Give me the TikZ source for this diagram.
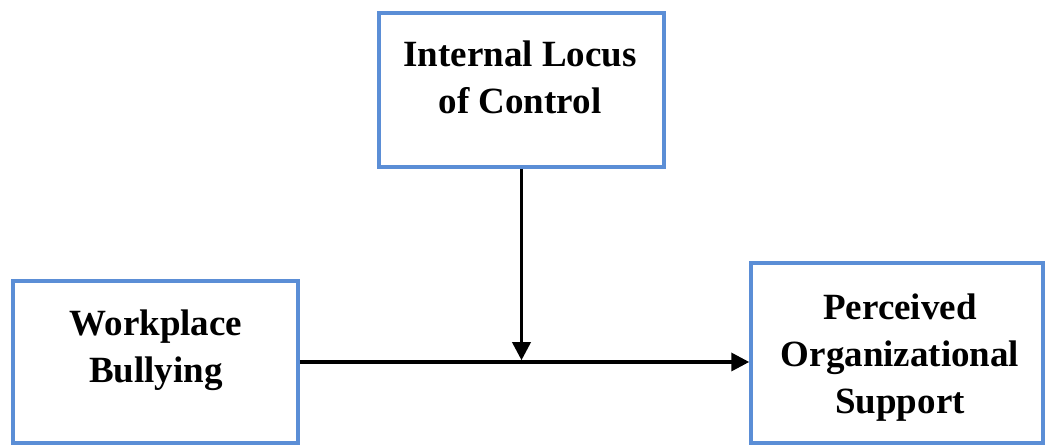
\documentclass[tikz,border=0pt]{standalone}
\usepackage{fontspec}
\setmainfont{Liberation Serif}
\usetikzlibrary{arrows.meta}
\definecolor{boxblue}{HTML}{5B8ED6}
\tikzset{
  boxnode/.style={draw=boxblue, line width=3.5pt, fill=white, inner sep=0pt},
  lbl/.style={inner sep=0pt, align=center, font=\fontsize{37}{47}\selectfont\bfseries},
  conn/.style={line width=3.5pt, -{Triangle[length=18pt,width=18pt]}}
}
\begin{document}
\begin{tikzpicture}[x=1pt,y=1pt]
\useasboundingbox (0,0) rectangle (1046,446);
\node[boxnode, minimum width=285pt, minimum height=154pt] (ilc) at (521.5,356) {};
\node[boxnode, minimum width=285pt, minimum height=162pt] (wb) at (155.5,84) {};
\node[boxnode, minimum width=292pt, minimum height=180pt] (pos) at (897,93) {};
\node[lbl] (ilct) at (520,369) {Internal Locus\\of Control};
\node[lbl] (wbt) at (156,96) {Workplace\\Bullying};
\node[lbl] (post) at (900,88) {Perceived\\Organizational\\Support};
\coordinate (m) at (ilc.south |- wb.east);
\draw[conn] (wb.east) -- (wb.east -| pos.west);
\draw[conn, shorten >=1.75pt] (ilc.south) -- (m);
\end{tikzpicture}
\end{document}
